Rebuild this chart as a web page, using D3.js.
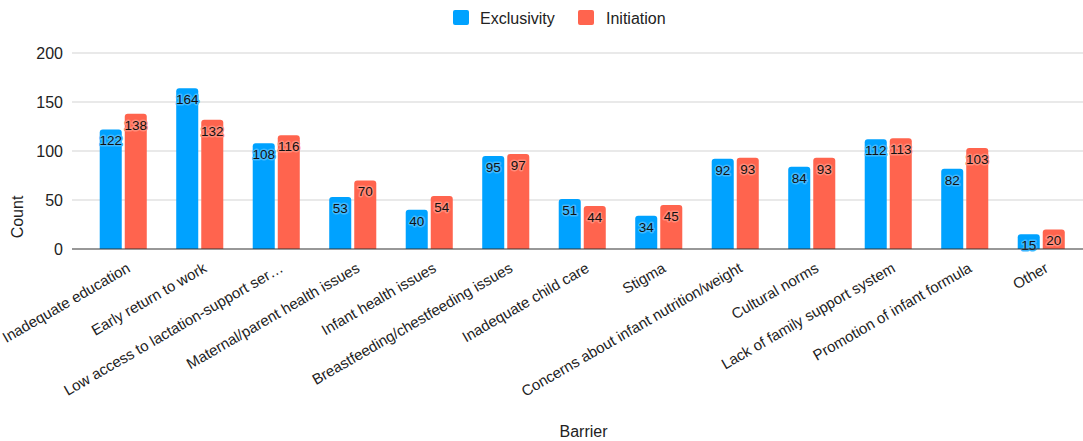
<!DOCTYPE html>
<html>
<head>
<meta charset="utf-8">
<script src="https://cdn.jsdelivr.net/npm/d3@7"></script>
<style>
  html, body { margin: 0; padding: 0; background: #fff; }
  svg { display: block; font-family: "Liberation Sans", Arial, sans-serif; }
</style>
</head>
<body>
<svg id="chart" width="1083" height="441"></svg>
<script>
const categories = [
  "Inadequate education",
  "Early return to work",
  "Low access to lactation-support ser\u2026",
  "Maternal/parent health issues",
  "Infant health issues",
  "Breastfeeding/chestfeeding issues",
  "Inadequate child care",
  "Stigma",
  "Concerns about infant nutrition/weight",
  "Cultural norms",
  "Lack of family support system",
  "Promotion of infant formula",
  "Other"
];
const seriesNames = ["Exclusivity", "Initiation"];
const exclusivity = [122, 164, 108, 53, 40, 95, 51, 34, 92, 84, 112, 82, 15];
const initiation  = [138, 132, 116, 70, 54, 97, 44, 45, 93, 93, 113, 103, 20];
const yTicks = [0, 50, 100, 150, 200];
const colors = ["#00A2FF", "#FF644E"];
const haloColors = ["#3FB9FF", "#FF8A78"];

const svg = d3.select("#chart");
const plotLeft = 72, plotRight = 1083, yTop = 53, yBottom = 249;

const y = d3.scaleLinear().domain([0, 200]).range([yBottom, yTop]);

const p = 0.385;
const x0 = d3.scaleBand().domain(categories)
  .range([85, 1079.5]).paddingInner(p).paddingOuter(p / 2);
const x1 = d3.scaleBand().domain(seriesNames)
  .range([0, x0.bandwidth()]).paddingInner(0.12);

// gridlines
const grid = svg.append("g");
grid.selectAll("line").data(yTicks.filter(d => d !== 0)).join("line")
  .attr("x1", plotLeft).attr("x2", plotRight)
  .attr("y1", d => y(d)).attr("y2", d => y(d))
  .attr("stroke", "#d3d3d3").attr("stroke-width", 1);

// y axis labels
const yAxis = d3.axisLeft(y).tickValues(yTicks).tickSize(0).tickPadding(9);
const gy = svg.append("g").attr("transform", `translate(${plotLeft},0)`).call(yAxis);
gy.select(".domain").remove();
gy.selectAll("text").attr("font-size", 16).attr("fill", "#222")
  .attr("font-family", "'Liberation Sans', Arial, sans-serif");

// bars
const data = categories.map((c, i) => ({ cat: c, values: [exclusivity[i], initiation[i]] }));
const groups = svg.append("g").selectAll("g").data(data).join("g")
  .attr("transform", d => `translate(${x0(d.cat)},0)`);

function topRounded(x, yTop, w, h, r) {
  r = Math.min(r, h, w / 2);
  return `M${x},${yTop + h}V${yTop + r}Q${x},${yTop} ${x + r},${yTop}H${x + w - r}Q${x + w},${yTop} ${x + w},${yTop + r}V${yTop + h}Z`;
}

groups.selectAll("path").data(d => d.values.map((v, k) => ({ v, k })))
  .join("path")
  .attr("d", d => topRounded(x1(seriesNames[d.k]), y(d.v), x1.bandwidth(), y(0) - y(d.v), 3))
  .attr("fill", d => colors[d.k]);

// data labels
groups.selectAll("text.val").data(d => d.values.map((v, k) => ({ v, k })))
  .join("text").attr("class", "val")
  .attr("x", d => x1(seriesNames[d.k]) + x1.bandwidth() / 2)
  .attr("y", d => y(d.v) + 16)
  .attr("text-anchor", "middle")
  .attr("font-size", 13.5)
  .attr("fill", "#111")
  .attr("stroke", d => haloColors[d.k])
  .attr("stroke-width", 3)
  .attr("stroke-linejoin", "round")
  .attr("paint-order", "stroke")
  .text(d => d.v);

// baseline
svg.append("line")
  .attr("x1", plotLeft).attr("x2", plotRight)
  .attr("y1", y(0)).attr("y2", y(0))
  .attr("stroke", "#333").attr("stroke-width", 1.2);

// x category labels
const xAxis = d3.axisBottom(x0).tickSize(0).tickPadding(0);
const gx = svg.append("g").attr("transform", `translate(0,${yBottom})`).call(xAxis);
gx.select(".domain").remove();
gx.selectAll("text")
  .attr("font-size", 15)
  .attr("fill", "#222")
  .attr("font-family", "'Liberation Sans', Arial, sans-serif")
  .attr("text-anchor", "end")
  .attr("dy", null)
  .attr("y", null)
  .attr("transform", "translate(8,22) rotate(-30)");

// axis titles
svg.append("text")
  .attr("transform", "translate(23,217) rotate(-90)")
  .attr("text-anchor", "middle")
  .attr("font-size", 16).attr("fill", "#222")
  .text("Count");

svg.append("text")
  .attr("x", 583.5).attr("y", 437)
  .attr("text-anchor", "middle")
  .attr("font-size", 16).attr("fill", "#222")
  .text("Barrier");

// legend
const legendItems = [
  { name: seriesNames[0], color: colors[0], x: 453, tx: 480 },
  { name: seriesNames[1], color: colors[1], x: 578, tx: 606 }
];
const lg = svg.append("g");
lg.selectAll("rect").data(legendItems).join("rect")
  .attr("x", d => d.x).attr("y", 10).attr("width", 16).attr("height", 15)
  .attr("rx", 2).attr("fill", d => d.color);
lg.selectAll("text").data(legendItems).join("text")
  .attr("x", d => d.tx).attr("y", 23.5)
  .attr("font-size", 16).attr("fill", "#222")
  .text(d => d.name);
</script>
</body>
</html>
